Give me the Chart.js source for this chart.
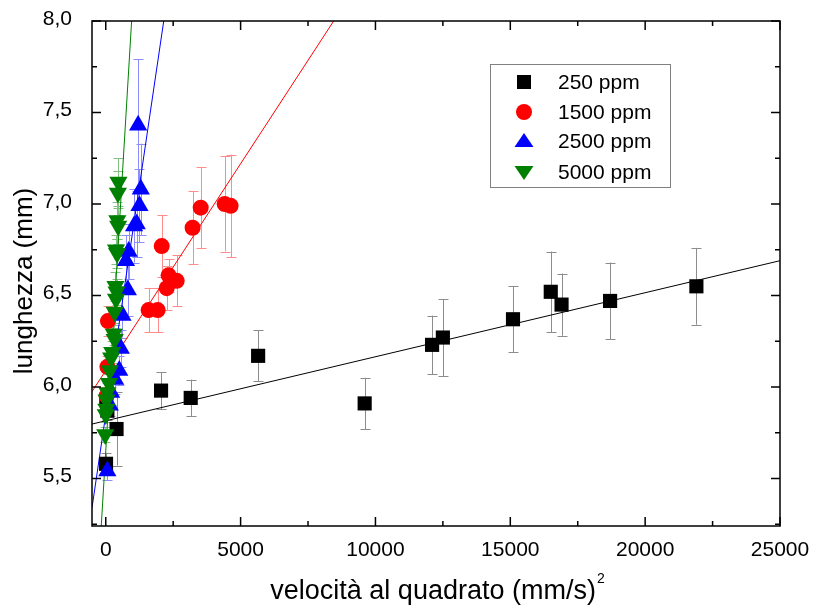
<!DOCTYPE html>
<html>
<head>
<meta charset="utf-8">
<script src="https://cdn.jsdelivr.net/npm/chart.js@4.4.0/dist/chart.umd.min.js"></script>
<style>
  html, body { margin: 0; padding: 0; background: #fff; }
  #wrap { width: 814px; height: 612px; }
</style>
</head>
<body>
<div id="wrap"><canvas id="lengthChart" width="814" height="612"></canvas></div>
<script>
// 250 ppm
const x250 = [10, 20, 60, 400, 2050, 3150, 5650, 9600, 12100, 12500, 15100, 16500, 16900, 18700, 21900];
const y250 = [5.58, 5.93, 5.87, 5.77, 5.98, 5.94, 6.17, 5.91, 6.23, 6.27, 6.37, 6.52, 6.45, 6.47, 6.55];
const e250 = [0.06, 0.05, 0.05, 0.2, 0.1, 0.1, 0.14, 0.14, 0.16, 0.21, 0.18, 0.22, 0.17, 0.21, 0.21];
// 1500 ppm
const x1500 = [30, 60, 80, 1590, 1925, 2075, 2260, 2330, 2630, 3220, 3520, 4410, 4630];
const y1500 = [5.95, 6.11, 6.36, 6.42, 6.42, 6.77, 6.54, 6.61, 6.58, 6.87, 6.98, 7.00, 6.99];
const e1500 = [0.05, 0.06, 0.08, 0.12, 0.12, 0.17, 0.12, 0.09, 0.14, 0.2, 0.22, 0.26, 0.28];
// 2500 ppm
const x2500 = [60, 150, 200, 350, 500, 560, 620, 820, 750, 850, 1050, 1150, 1250, 1300, 1200];
const y2500 = [5.54, 5.90, 5.97, 6.04, 6.09, 6.21, 6.39, 6.53, 6.69, 6.74, 6.88, 6.89, 6.99, 7.08, 7.43];
const e2500 = [0.05, 0.06, 0.07, 0.08, 0.08, 0.1, 0.12, 0.14, 0.14, 0.15, 0.2, 0.18, 0.2, 0.25, 0.36];
// 5000 ppm
const x5000 = [-20, 0, 20, 30, 60, 120, 150, 200, 240, 330, 300, 330, 380, 400, 360, 420, 380, 460, 430, 450, 470];
const y5000 = [5.74, 5.85, 5.88, 5.93, 5.97, 6.02, 6.09, 6.16, 6.19, 6.26, 6.29, 6.41, 6.48, 6.52, 6.55, 6.73, 6.75, 6.88, 6.91, 7.06, 7.12];
const e5000 = [0.04, 0.04, 0.04, 0.05, 0.05, 0.05, 0.05, 0.05, 0.06, 0.06, 0.06, 0.07, 0.07, 0.07, 0.08, 0.08, 0.08, 0.1, 0.1, 0.12, 0.13];

// rette di fit: [intercetta, pendenza]
const fit250 = [5.815, 3.5e-5];
const fit1500 = [6.09, 2.26e-4];
const fit2500 = [5.85, 1.0e-3];
const fit5000 = [5.65, 2.45e-3];

const seriesNames = ['250 ppm', '1500 ppm', '2500 ppm', '5000 ppm'];
const xTicks = [0, 2500, 5000, 7500, 10000, 12500, 15000, 17500, 20000, 22500, 25000];
const yTicks = [5.25, 5.5, 5.75, 6.0, 6.25, 6.5, 6.75, 7.0, 7.25, 7.5, 7.75, 8.0];
const X_MIN = -510, X_MAX = 25000, Y_MIN = 5.24, Y_MAX = 8.0;

const toPoints = (xs, ys) => xs.map((x, i) => ({ x: x, y: ys[i] }));
const fitPoints = f => [X_MIN, X_MAX].map(x => ({ x: x, y: f[0] + f[1] * x }));

const styles = [
  { color: '#000000', err: '#8c8c8c', pointStyle: 'rect', radius: 10, rotation: 0 },
  { color: '#ff0000', err: '#ff8c8c', pointStyle: 'circle', radius: 8, rotation: 0 },
  { color: '#0000ff', err: '#8c8cff', pointStyle: 'triangle', radius: 10.5, rotation: 0 },
  { color: '#008000', err: '#80c080', pointStyle: 'triangle', radius: 10.5, rotation: 180 }
];
const allX = [x250, x1500, x2500, x5000];
const allY = [y250, y1500, y2500, y5000];
const allErr = [e250, e1500, e2500, e5000];
const allFit = [fit250, fit1500, fit2500, fit5000];

const datasets = [];
styles.forEach((s, i) => {
  datasets.push({
    type: 'scatter',
    label: seriesNames[i],
    data: toPoints(allX[i], allY[i]),
    errors: allErr[i],
    errColor: s.err,
    pointStyle: s.pointStyle,
    pointRadius: s.radius,
    pointRotation: s.rotation,
    backgroundColor: s.color,
    borderColor: s.color,
    borderWidth: 0,
    order: 3 - i
  });
});
styles.forEach((s, i) => {
  datasets.push({
    type: 'line',
    label: 'fit ' + seriesNames[i],
    data: fitPoints(allFit[i]),
    borderColor: s.color,
    borderWidth: 1,
    pointRadius: 0,
    fill: false,
    order: 10 + i
  });
});

const errorBars = {
  id: 'errorBars',
  beforeDatasetsDraw(chart) {
    const ctx = chart.ctx, xs = chart.scales.x, ys = chart.scales.y, a = chart.chartArea;
    ctx.save();
    ctx.beginPath();
    ctx.rect(a.left, a.top, a.right - a.left, a.bottom - a.top);
    ctx.clip();
    ctx.lineWidth = 1;
    chart.data.datasets.forEach(ds => {
      if (!ds.errors) return;
      ctx.strokeStyle = ds.errColor;
      ds.data.forEach((p, i) => {
        const px = Math.round(xs.getPixelForValue(p.x)) + 0.5;
        const y1 = ys.getPixelForValue(p.y + ds.errors[i]);
        const y2 = ys.getPixelForValue(p.y - ds.errors[i]);
        ctx.beginPath();
        ctx.moveTo(px, y1); ctx.lineTo(px, y2);
        ctx.moveTo(px - 5, Math.round(y1) + 0.5); ctx.lineTo(px + 5, Math.round(y1) + 0.5);
        ctx.moveTo(px - 5, Math.round(y2) + 0.5); ctx.lineTo(px + 5, Math.round(y2) + 0.5);
        ctx.stroke();
      });
    });
    ctx.restore();
  }
};

function drawMarker(ctx, style, x, y) {
  ctx.fillStyle = style.color;
  ctx.beginPath();
  if (style.pointStyle === 'rect') {
    ctx.rect(x - 7, y - 7, 14, 14);
  } else if (style.pointStyle === 'circle') {
    ctx.arc(x, y, 8, 0, Math.PI * 2);
  } else if (style.rotation === 180) {
    ctx.moveTo(x - 9.5, y - 6); ctx.lineTo(x + 9.5, y - 6); ctx.lineTo(x, y + 8);
  } else {
    ctx.moveTo(x - 9.5, y + 6); ctx.lineTo(x + 9.5, y + 6); ctx.lineTo(x, y - 8);
  }
  ctx.closePath();
  ctx.fill();
}

const frameAndLegend = {
  id: 'frameAndLegend',
  afterDraw(chart) {
    const ctx = chart.ctx, a = chart.chartArea, xs = chart.scales.x, ys = chart.scales.y;
    ctx.save();
    // cornice
    ctx.strokeStyle = '#000';
    ctx.lineWidth = 1.5;
    ctx.strokeRect(a.left, a.top, a.right - a.left, a.bottom - a.top);
    // tacche interne
    ctx.beginPath();
    xTicks.forEach(v => {
      const px = xs.getPixelForValue(v);
      const len = v % 5000 === 0 ? 9 : 5;
      ctx.moveTo(px, a.bottom); ctx.lineTo(px, a.bottom - len);
      ctx.moveTo(px, a.top); ctx.lineTo(px, a.top + len);
    });
    yTicks.forEach(v => {
      const py = ys.getPixelForValue(v);
      const len = Math.abs(v * 2 - Math.round(v * 2)) < 1e-6 ? 9 : 5;
      ctx.moveTo(a.left, py); ctx.lineTo(a.left + len, py);
      ctx.moveTo(a.right, py); ctx.lineTo(a.right - len, py);
    });
    ctx.stroke();

    // titoli degli assi
    ctx.fillStyle = '#000';
    ctx.textBaseline = 'middle';
    ctx.textAlign = 'center';
    ctx.font = '26px "Liberation Sans", Arial, sans-serif';
    ctx.save();
    ctx.translate(25, 281);
    ctx.rotate(-Math.PI / 2);
    ctx.fillText('lunghezza (mm)', 0, 0);
    ctx.restore();
    ctx.font = '27px "Liberation Sans", Arial, sans-serif';
    const title = 'velocità al quadrato (mm/s)';
    const w = ctx.measureText(title).width;
    ctx.font = '14px "Liberation Sans", Arial, sans-serif';
    const w2 = ctx.measureText('2').width;
    const startX = 437 - (w + w2) / 2;
    ctx.textAlign = 'left';
    ctx.font = '27px "Liberation Sans", Arial, sans-serif';
    ctx.fillText(title, startX, 592);
    ctx.font = '14px "Liberation Sans", Arial, sans-serif';
    ctx.fillText('2', startX + w + 1, 579);

    // legenda
    ctx.strokeStyle = '#808080';
    ctx.lineWidth = 1;
    ctx.strokeRect(490.5, 64.5, 180, 123);
    const rows = [82, 112, 141, 172];
    ctx.font = '21px "Liberation Sans", Arial, sans-serif';
    seriesNames.forEach((name, i) => {
      drawMarker(ctx, styles[i], 524, rows[i]);
      ctx.fillStyle = '#000';
      ctx.textAlign = 'left';
      ctx.fillText(name, 558, rows[i] + 1);
    });
    ctx.restore();
  }
};

// niente margini automatici delle etichette: l'area del grafico la decidono layout.padding e afterFit
const noLabelPadding = s => { s.paddingLeft = 0; s.paddingRight = 0; s.paddingTop = 0; s.paddingBottom = 0; };

new Chart(document.getElementById('lengthChart'), {
  data: { datasets: datasets },
  options: {
    responsive: false,
    animation: false,
    layout: { padding: { top: 21, right: 34, left: 0, bottom: 0 } },
    plugins: { legend: { display: false }, tooltip: { enabled: false } },
    scales: {
      x: {
        type: 'linear',
        min: X_MIN,
        max: X_MAX,
        afterBuildTicks: s => { s.ticks = xTicks.map(v => ({ value: v })); },
        afterFit: s => { s.height = 86; noLabelPadding(s); },
        grid: { display: false },
        border: { display: false },
        ticks: {
          autoSkip: false,
          maxRotation: 0,
          padding: 4,
          color: '#000',
          font: { family: '"Liberation Sans", Arial', size: 21 },
          callback: v => (v % 5000 === 0 ? String(v) : '')
        }
      },
      y: {
        type: 'linear',
        min: Y_MIN,
        max: Y_MAX,
        afterBuildTicks: s => { s.ticks = yTicks.map(v => ({ value: v })); },
        afterFit: s => { s.width = 92; noLabelPadding(s); },
        grid: { display: false },
        border: { display: false },
        ticks: {
          autoSkip: false,
          padding: 12,
          labelOffset: -2,
          color: '#000',
          font: { family: '"Liberation Sans", Arial', size: 21 },
          callback: v => (Math.abs(v * 2 - Math.round(v * 2)) < 1e-6 ? v.toFixed(1).replace('.', ',') : '')
        }
      }
    }
  },
  plugins: [errorBars, frameAndLegend]
});
</script>
</body>
</html>
